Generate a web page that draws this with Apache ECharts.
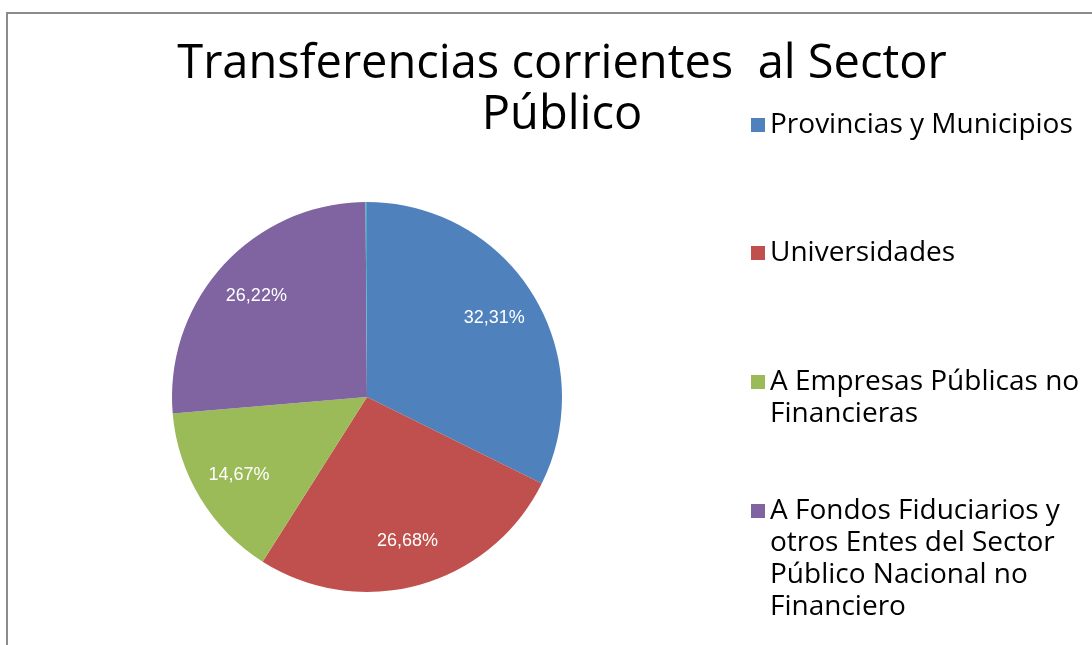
<!DOCTYPE html>
<html>
<head>
<meta charset="utf-8">
<script src="https://cdn.jsdelivr.net/npm/echarts@6/dist/echarts.min.js"></script>
<style>
  html, body { margin: 0; padding: 0; background: #fff; }
  #main { width: 1092px; height: 645px; }
</style>
</head>
<body>
<div id="main"></div>
<script>
  // categorias y valores (%)
  const categorias = [
    'Provincias y Municipios',
    'Universidades',
    'A Empresas Públicas no Financieras',
    'A Fondos Fiduciarios y otros Entes del Sector Público Nacional no Financiero',
    'Otros'
  ];
  const valores = [32.31, 26.68, 14.67, 26.22, 0.12];
  const etiquetas = ['32,31%', '26,68%', '14,67%', '26,22%', ''];
  // textos de la leyenda con saltos de linea
  const leyendaTextos = [
    'Provincias y Municipios',
    'Universidades',
    'A Empresas Públicas no\nFinancieras',
    'A Fondos Fiduciarios y\notros Entes del Sector\nPúblico Nacional no\nFinanciero'
  ];
  const colores = ['#4f81bd', '#c0504d', '#9bbb59', '#8064a2', '#4bacc6'];

  const chart = echarts.init(document.getElementById('main'));

  const cx = 367, cy = 397;
  const lineH = 32;
  const iconTops = [118, 246, 375, 504];

  // una leyenda por elemento; lineas vacias delante para que el cuadro quede en la primera linea
  const legends = leyendaTextos.map((txt, i) => {
    const n = txt.split('\n').length;
    const conRelleno = '\n'.repeat(n - 1) + txt;
    return {
      left: 751,
      top: iconTops[i] - (2 * n - 1) * lineH / 2 + 7,
      orient: 'vertical',
      padding: 0,
      itemWidth: 14,
      itemHeight: 14,
      icon: 'rect',
      selectedMode: false,
      data: [categorias[i]],
      formatter: () => conRelleno,
      textStyle: {
        fontFamily: 'Open Sans',
        fontSize: 28,
        color: '#000',
        lineHeight: lineH
      }
    };
  });

  const option = {
    color: colores,
    title: {
      text: 'Transferencias corrientes  al Sector\nPúblico',
      left: 557,
      top: 34,
      textAlign: 'center',
      textStyle: {
        fontFamily: 'Open Sans',
        fontWeight: 'normal',
        fontSize: 47,
        lineHeight: 51,
        color: '#000'
      }
    },
    legend: legends,
    graphic: [{
      type: 'rect',
      shape: { x: 7, y: 13, width: 1300, height: 1000 },
      style: { fill: 'none', stroke: '#8c8c8c', lineWidth: 2 },
      silent: true
    }],
    series: [{
      type: 'pie',
      center: [cx, cy],
      radius: 195,
      startAngle: 90,
      clockwise: true,
      avoidLabelOverlap: false,
      data: categorias.map((c, i) => ({
        name: c,
        value: valores[i],
        label: { show: etiquetas[i] !== '' }
      })),
      label: {
        position: 'inside',
        formatter: (p) => etiquetas[p.dataIndex],
        color: '#fff',
        fontFamily: 'Liberation Sans, Arial',
        fontSize: 18
      },
      labelLayout: (p) => {
        const r = p.labelRect;
        const lx = r.x + r.width / 2, ly = r.y + r.height / 2;
        return { dx: (lx - cx) * 0.49, dy: (ly - cy) * 0.49 };
      },
      labelLine: { show: false },
      itemStyle: { borderWidth: 0 },
      emphasis: { disabled: true }
    }]
  };

  chart.setOption(option);
  window.addEventListener('resize', function () {
    chart.resize();
  });
</script>
</body>
</html>
